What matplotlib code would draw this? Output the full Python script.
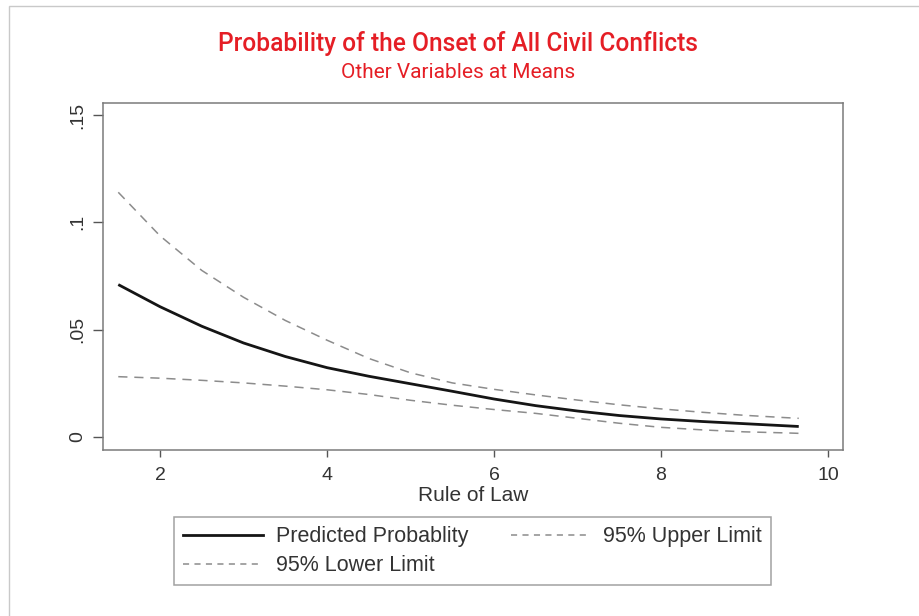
import matplotlib
matplotlib.use("Agg")
import matplotlib.pyplot as plt
from matplotlib import font_manager
from matplotlib.lines import Line2D
from matplotlib.patches import Rectangle

# ---- data ----
rule_of_law = [1.5, 2.0, 2.5, 3.0, 3.5, 4.0, 4.5, 5.0, 5.5, 6.0, 6.5, 7.0, 7.5, 8.0, 8.5, 9.0, 9.5, 9.65]
predicted = [0.0710, 0.0607, 0.0516, 0.0438, 0.0375, 0.0323, 0.0283, 0.0248, 0.0213, 0.0177, 0.0146,
             0.0121, 0.0100, 0.0084, 0.0072, 0.0062, 0.0052, 0.0049]
upper_95 = [0.1140, 0.0937, 0.0776, 0.0651, 0.0543, 0.0451, 0.0366, 0.0299, 0.0252, 0.0222, 0.0196,
            0.0172, 0.0150, 0.0131, 0.0115, 0.0101, 0.0090, 0.0087]
lower_95 = [0.0281, 0.0274, 0.0264, 0.0252, 0.0237, 0.0220, 0.0198, 0.0171, 0.0148, 0.0128, 0.0110,
            0.0087, 0.0064, 0.0045, 0.0033, 0.0024, 0.0019, 0.0017]
x_ticks = [2, 4, 6, 8, 10]
y_ticks = [0, 0.05, 0.10, 0.15]
y_tick_labels = ["0", ".05", ".1", ".15"]
series_labels = ["Predicted Probablity", "95% Upper Limit", "95% Lower Limit"]
title = "Probability of the Onset of All Civil Conflicts"
subtitle = "Other Variables at Means"
x_label = "Rule of Law"


def pick_family(cands):
    for c in cands:
        try:
            font_manager.findfont(font_manager.FontProperties(family=c), fallback_to_default=False)
            return c
        except Exception:
            continue
    return "DejaVu Sans"


body_font = pick_family(["Liberation Sans", "Arial", "DejaVu Sans"])
title_font = pick_family(["Liberation Sans Narrow", "Roboto", "Liberation Sans"])

W, H = 919, 616
fig = plt.figure(figsize=(W / 100, H / 100), dpi=100)
fig.patch.set_facecolor("white")

# outer light frame
fig.add_artist(Rectangle((9 / W, -0.01), 1.0, 1 - 6 / H + 0.01, transform=fig.transFigure,
                         fill=False, edgecolor="#c9c9c9", linewidth=1.0))

ax = fig.add_axes([103 / W, (H - 450) / H, (843 - 103) / W, (450 - 103) / H])
ax.set_xlim(1.317, 10.18)
ax.set_ylim(-0.00606, 0.1556)

gray = "#8c8c8c"
ax.plot(rule_of_law, predicted, color="#151515", lw=2.0, solid_capstyle="butt")
ax.plot(rule_of_law, upper_95, color=gray, lw=1.1, dashes=(6, 4.5))
ax.plot(rule_of_law, lower_95, color=gray, lw=1.1, dashes=(6, 4.5))

for s in ax.spines.values():
    s.set_color("#7a7a7a")
    s.set_linewidth(1.1)

ax.set_xticks(x_ticks)
ax.set_xticklabels([str(t) for t in x_ticks])
ax.set_yticks(y_ticks)
ax.set_yticklabels(y_tick_labels, rotation=90, va="center")
ax.tick_params(axis="x", length=5, width=1.0, color="#555555", pad=7,
               labelsize=14, labelcolor="#333333")
ax.tick_params(axis="y", length=7, width=1.0, color="#555555", pad=5,
               labelsize=14, labelcolor="#333333")
for lab in ax.get_xticklabels() + ax.get_yticklabels():
    lab.set_family(body_font)

ax.set_xlabel(x_label, fontsize=15, color="#333333", family=body_font, labelpad=2)

# legend
handles = [
    Line2D([], [], color="#151515", lw=2.0),
    Line2D([], [], color=gray, lw=1.1, dashes=(4, 3.5)),
    Line2D([], [], color=gray, lw=1.1, dashes=(4, 3.5)),
]
order = [0, 2, 1]
leg = fig.legend([handles[i] for i in order], [series_labels[i] for i in order],
                 loc="upper left",
                 bbox_to_anchor=(174 / W, (H - 585) / H, (771 - 174) / W, (585 - 517) / H),
                 bbox_transform=fig.transFigure, mode="expand", ncol=2,
                 frameon=True, fancybox=False, borderaxespad=0, borderpad=0.42,
                 handlelength=3.7, handletextpad=0.6, labelspacing=0.38,
                 columnspacing=1.0,
                 prop={"family": body_font, "size": 15.5})
leg.get_frame().set_edgecolor("#8a8a8a")
leg.get_frame().set_linewidth(1.1)
for t in leg.get_texts():
    t.set_color("#333333")

# titles, fitted to the reference widths
red = "#e51e25"
t1 = fig.text(458 / W, 1 - 43 / H, title, ha="center", va="center", color=red,
              family=title_font, fontweight="medium", fontsize=17)
t2 = fig.text(458 / W, 1 - 72 / H, subtitle, ha="center", va="center", color=red,
              family=title_font, fontsize=13)
fig.canvas.draw()
r = fig.canvas.get_renderer()
for t, target in ((t1, 480), (t2, 235)):
    w = t.get_window_extent(r).width
    t.set_fontsize(t.get_fontsize() * target / w)

fig.savefig("out.png", dpi=100, facecolor="white")
